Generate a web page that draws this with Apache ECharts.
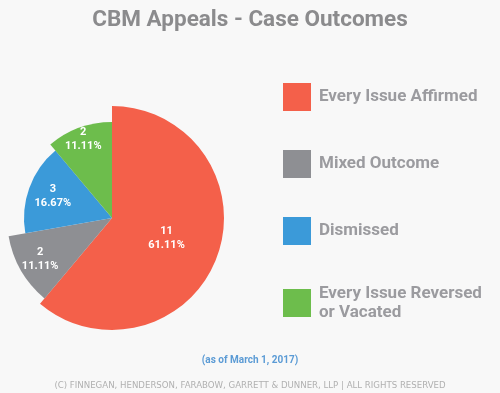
<!DOCTYPE html>
<html>
<head>
<meta charset="utf-8">
<script src="https://cdn.jsdelivr.net/npm/echarts@6/dist/echarts.min.js"></script>
<style>html,body{margin:0;padding:0;background:#f8f8f8;}#c{width:500px;height:393px;}</style>
</head>
<body>
<div id="c"></div>
<script>
const categories = ['Every Issue Affirmed', 'Mixed Outcome', 'Dismissed', 'Every Issue Reversed\nor Vacated'];
const values = [11, 2, 3, 2];
const colors = ['#f4604a', '#8e8f93', '#3b9ad9', '#6dbd4c'];
const titleText = 'CBM Appeals - Case Outcomes';
const subText = '(as of March 1, 2017)';
const footerText = '(C) FINNEGAN, HENDERSON, FARABOW, GARRETT & DUNNER, LLP | ALL RIGHTS RESERVED';

// layout (not data): outer radius of each slice and radial distance of its label
const sliceRadius = [112, 105, 88, 96];
const labelRadius = [55, 80, 60, 81];
const center = [112, 218];

const series = [];
categories.forEach((name, i) => {
  series.push({
    type: 'pie', center: center, radius: [0, sliceRadius[i]],
    startAngle: 90, clockwise: true, silent: true, animation: false,
    avoidLabelOverlap: false,
    label: { show: false }, labelLine: { show: false },
    emphasis: { disabled: true },
    data: values.map((v, j) => ({
      name: categories[j], value: v,
      itemStyle: { color: j === i ? colors[i] : 'rgba(0,0,0,0)' }
    }))
  });
  const L = labelRadius[i], r = sliceRadius[i];
  const inner = Math.max(0, 2 * L - r);
  const outer = 2 * L - inner;
  series.push({
    type: 'pie', center: center, radius: [inner, outer],
    startAngle: 90, clockwise: true, silent: true, animation: false,
    avoidLabelOverlap: false,
    labelLine: { show: false },
    emphasis: { disabled: true },
    label: {
      position: 'inside', formatter: '{c}\n{d}%',
      color: '#ffffff', fontFamily: 'Roboto', fontWeight: 'bold',
      fontSize: 11, lineHeight: 14
    },
    data: values.map((v, j) => ({
      name: categories[j], value: v,
      itemStyle: { color: 'rgba(0,0,0,0)' },
      label: { show: j === i }
    }))
  });
});

const chart = echarts.init(document.getElementById('c'), null, { renderer: 'canvas' });
chart.setOption({
  backgroundColor: '#f8f8f8',
  animation: false,
  title: [
    { text: titleText, left: 'center', top: 4,
      textStyle: { fontFamily: 'Roboto', fontWeight: 'bold', fontSize: 22.5, color: '#8b8b8d' } },
    { text: subText, left: 'center', top: 350,
      textStyle: { fontFamily: 'Roboto', fontWeight: 'bold', fontSize: 10, color: '#5b9bd5' } },
    { text: footerText, left: 'center', top: 376,
      textStyle: { fontFamily: 'DejaVu Sans', fontWeight: 'normal', fontSize: 8.6, color: '#b0b0b0' } }
  ],
  legend: {
    orient: 'vertical', left: 278, top: 78,
    icon: 'rect', itemWidth: 28, itemHeight: 28, itemGap: 39,
    selectedMode: false,
    textStyle: { fontFamily: 'Roboto', fontWeight: 'bold', fontSize: 17, color: '#9b9b9f', padding: [0, 0, 0, 3], lineHeight: 19 },
    data: categories.map((n, i) => ({ name: n, itemStyle: { color: colors[i] } }))
  },
  series: series
});
</script>
</body>
</html>
